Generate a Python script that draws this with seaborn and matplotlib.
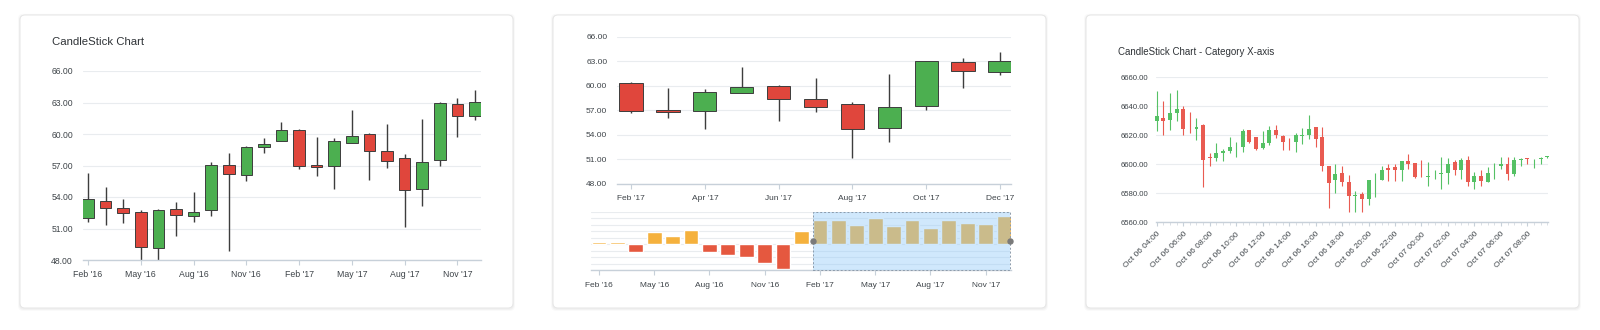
import numpy as np
import pandas as pd
import matplotlib
matplotlib.use("Agg")
import matplotlib.pyplot as plt
import seaborn as sns
from matplotlib.patches import FancyBboxPatch, Rectangle

# ---------------- data ----------------
months = ["Feb '16", "Mar '16", "Apr '16", "May '16", "Jun '16", "Jul '16",
          "Aug '16", "Sep '16", "Oct '16", "Nov '16", "Dec '16", "Jan '17",
          "Feb '17", "Mar '17", "Apr '17", "May '17", "Jun '17", "Jul '17",
          "Aug '17", "Sep '17", "Oct '17", "Nov '17", "Dec '17"]
m_open = [51.98, 53.66, 52.96, 52.54, 49.10, 52.83, 52.20, 52.76, 57.04, 56.09, 58.78, 59.37,
          60.40, 57.02, 56.97, 59.11, 59.97, 58.34, 57.76, 54.80, 57.56, 62.89, 61.71]
m_high = [56.29, 54.99, 53.78, 52.79, 52.86, 53.48, 54.48, 57.35, 58.15, 58.85, 59.65, 61.11,
          60.52, 59.71, 59.62, 62.29, 60.11, 60.93, 58.08, 61.42, 63.09, 63.42, 64.15]
m_low = [51.59, 51.35, 51.54, 47.88, 47.70, 50.32, 51.64, 52.15, 48.88, 55.48, 58.23, 59.35,
         56.71, 56.04, 54.77, 59.10, 55.66, 56.75, 51.18, 53.18, 57.00, 59.72, 61.29]
m_close = [53.85, 52.95, 52.48, 49.24, 52.78, 52.29, 52.58, 57.03, 56.19, 58.79, 59.05, 60.34,
           56.93, 56.82, 59.30, 59.85, 58.42, 57.42, 54.71, 57.35, 62.99, 61.76, 63.04]
brush_values = [3.85, 2.95, -12.48, 19.24, 12.78, 22.29, -12.58, -17.03, -19.19, -28.79, -39.05,
                20.34, 36.93, 36.82, 29.30, 39.85, 28.42, 37.42, 24.71, 37.35, 32.99, 31.76, 43.04]
quarter_labels = ["Feb '16", "May '16", "Aug '16", "Nov '16", "Feb '17", "May '17", "Aug '17", "Nov '17"]
zoom_labels = ["Feb '17", "Apr '17", "Jun '17", "Aug '17", "Oct '17", "Dec '17"]
price_ticks = [48, 51, 54, 57, 60, 63, 66]

i_open = [6629.81, 6632.01, 6630.71, 6635.65, 6638.24, 6624.53, 6624.61, 6627, 6605, 6604.5,
          6608.02, 6608.91, 6612, 6612, 6623.91, 6618.69, 6611, 6614.9, 6623.48, 6619.43,
          6615.53, 6615.19, 6619.54, 6620.33, 6625.95, 6619, 6598.86, 6588.86, 6593.99, 6587.81,
          6578.35, 6579.38, 6575.96, 6588.92, 6589.3, 6597.5, 6598.03, 6595.97, 6602, 6600.63,
          6591.02, 6591, 6593.13, 6593.34, 6593.86, 6601.81, 6596.25, 6602.99, 6587.81, 6591.97,
          6587.6, 6596.44, 6598.91, 6600.55, 6593.15, 6603.07, 6604.44, 6603.5, 6603.85, 6604.98]
i_high = [6650.5, 6643.59, 6648.95, 6651, 6640, 6636.03, 6632.2, 6627.62, 6608.03, 6614.4,
          6610.68, 6618.99, 6615.13, 6624.12, 6623.91, 6618.74, 6622.78, 6626.2, 6627, 6620.35,
          6617.93, 6621.6, 6625.17, 6634.15, 6626, 6625.97, 6598.88, 6600, 6598.89, 6592.73,
          6581.72, 6580.92, 6589, 6594, 6598.89, 6600, 6600, 6602.01, 6607, 6601.21,
          6603.08, 6601.32, 6596.01, 6604.76, 6604.28, 6603.21, 6604.2, 6606, 6595, 6596.07,
          6598.21, 6601, 6605, 6605, 6605, 6604.5, 6604.44, 6603.99, 6605, 6606]
i_low = [6623.04, 6620, 6623.34, 6629.67, 6620, 6621.68, 6617, 6584.22, 6598.95, 6602.26,
         6601.99, 6608.01, 6605.09, 6608.43, 6615, 6610, 6610.4, 6613.33, 6618.38, 6610.05,
         6610, 6608.2, 6614.15, 6617.24, 6611.66, 6595.27, 6570, 6580, 6585, 6567.14,
         6567.39, 6566.77, 6571.77, 6577.55, 6589.1, 6588.39, 6588.73, 6588.17, 6596.51, 6590.39,
         6591, 6585, 6590, 6582.63, 6586.57, 6592.78, 6590, 6584.99, 6583.27, 6585,
         6587.6, 6590, 6596.61, 6589.14, 6592, 6599.09, 6600, 6597.5, 6600, 6604.07]
i_close = [6633.33, 6630.11, 6635.65, 6638.24, 6624.47, 6624.31, 6626.02, 6603.02, 6604.01, 6608.02,
           6608.91, 6612, 6612, 6622.95, 6615.67, 6610.4, 6614.9, 6623.45, 6620.35, 6615.53,
           6615.19, 6620, 6620, 6624.61, 6617.58, 6598.86, 6587.16, 6593.4, 6587.81, 6578,
           6579, 6575.96, 6588.92, 6589.22, 6596.08, 6596.25, 6595.97, 6602, 6599.95, 6591.02,
           6591, 6592, 6593.34, 6593.86, 6600.01, 6596.25, 6602.99, 6587.81, 6591.96, 6588.39,
           6594.27, 6596.55, 6600.02, 6593.01, 6603.06, 6603.89, 6603.5, 6603.86, 6604.07, 6606]
intraday_labels = ["Oct 06 04:00", "Oct 06 06:00", "Oct 06 08:00", "Oct 06 10:00", "Oct 06 12:00",
                   "Oct 06 14:00", "Oct 06 16:00", "Oct 06 18:00", "Oct 06 20:00", "Oct 06 22:00",
                   "Oct 07 00:00", "Oct 07 02:00", "Oct 07 04:00", "Oct 07 06:00", "Oct 07 08:00"]
intraday_ticks = [6560, 6580, 6600, 6620, 6640, 6660]

# ---------------- style ----------------
sns.set_theme(style="white")
plt.rcParams["font.family"] = ["Liberation Sans", "DejaVu Sans"]

W, H = 1600, 330
fig = plt.figure(figsize=(W / 100, H / 100), dpi=100)
fig.patch.set_facecolor("white")

TXT = "#3e4449"
GRID = "#e9ecef"
AXIS = "#c7d0d9"
UP, DOWN = "#4caf50", "#e0463c"
UP3, DOWN3 = "#55c165", "#e95b51"


def rect(x0, y0, x1, y1):
    return [x0 / W, 1 - y1 / H, (x1 - x0) / W, (y1 - y0) / H]


# cards (drawn beneath the axes)
for cx in (20, 553, 1086):
    for k, a in ((2.0, 0.025), (1.0, 0.035)):
        sh = FancyBboxPatch(((cx - k) / 100, (H - 308 - k - 0.8) / 100), (493 + 2 * k) / 100,
                            (293 + 2 * k) / 100, boxstyle="round,pad=0,rounding_size=0.05",
                            transform=fig.dpi_scale_trans, facecolor="#000000", alpha=a,
                            edgecolor="none", zorder=-3)
        fig.add_artist(sh)
    card = FancyBboxPatch((cx / 100, (H - 308) / 100), 493 / 100, 293 / 100,
                          boxstyle="round,pad=0,rounding_size=0.05",
                          transform=fig.dpi_scale_trans, facecolor="white",
                          edgecolor="#e6e6e6", linewidth=0.7, zorder=-2)
    fig.add_artist(card)


def style_axes(ax, ylab_size, pad):
    ax.set_facecolor("none")
    for s in ("top", "right", "left"):
        ax.spines[s].set_visible(False)
    ax.spines["bottom"].set_color(AXIS)
    ax.spines["bottom"].set_linewidth(1.0)
    ax.grid(axis="y", color=GRID, linewidth=0.8)
    ax.grid(axis="x", visible=False)
    ax.set_axisbelow(True)
    ax.tick_params(axis="y", length=0, labelsize=ylab_size, labelcolor=TXT, pad=pad)
    ax.tick_params(axis="x", length=3.5, width=0.8, color=AXIS, labelsize=6.3,
                   labelcolor=TXT, pad=4, bottom=True)
    ax.set_xlabel("")
    ax.set_ylabel("")


def candles(ax, x, o, h, l, c, width, up, down, edge, wick_lw, edge_lw, clip=True):
    o, h, l, c = map(np.asarray, (o, h, l, c))
    x = np.asarray(x)
    rising = c >= o
    cols = np.where(rising, up, down)
    wcols = [edge if edge else col for col in cols]
    wk = ax.vlines(x, l, h, colors=wcols, linewidth=wick_lw, zorder=2)
    wk.set_clip_on(clip)
    body = np.where(np.abs(c - o) < 1e-9, 0.001, c - o)
    bars = ax.bar(x, body, bottom=o, width=width, color=cols,
                  edgecolor=edge if edge else cols, linewidth=edge_lw, zorder=3)
    for b in bars:
        b.set_clip_on(clip)


idx = np.arange(len(months))

# ---------------- panel 1 ----------------
ax1 = fig.add_axes(rect(82.7, 71, 481, 260))
candles(ax1, idx, m_open, m_high, m_low, m_close, 0.66, UP, DOWN, "#3d3d3d", 1.0, 0.7)
ax1.set_ylim(48, 66)
ax1.set_xlim(-0.3, 22.34)
ax1.set_yticks(price_ticks)
ax1.set_yticklabels([f"{v:.2f}" for v in price_ticks])
ax1.set_xticks(idx[::3])
ax1.set_xticklabels(quarter_labels)
style_axes(ax1, 6.2, 7)
fig.text(52 / W, 1 - 41.7 / H, "CandleStick Chart", fontsize=8.2, color="#2f3337", va="center")

# ---------------- panel 2 main ----------------
ax2 = fig.add_axes(rect(616.7, 36.7, 1010.7, 184))
candles(ax2, idx, m_open, m_high, m_low, m_close, 0.63, UP, DOWN, "#3d3d3d", 1.0, 0.7)
ax2.set_ylim(48, 66)
ax2.set_xlim(12 - 0.39, 22 + 0.29)
ax2.set_yticks(price_ticks)
ax2.set_yticklabels([f"{v:.2f}" for v in price_ticks])
ax2.set_xticks(idx[12::2])
ax2.set_xticklabels(zoom_labels)
style_axes(ax2, 6.0, 6.8)
ax2.tick_params(axis="x", labelsize=6.0, pad=4.5)

# ---------------- panel 2 brush ----------------
ax3 = fig.add_axes(rect(591, 211.7, 1010.7, 270))
bdf = pd.DataFrame({"m": idx, "v": brush_values,
                    "dir": ["up" if v > 0 else "down" for v in brush_values]})
sns.barplot(data=bdf, x="m", y="v", hue="dir", palette={"up": "#f5b13d", "down": "#e5583f"},
            native_scale=True, dodge=False, width=0.8, legend=False, errorbar=None,
            saturation=1, ax=ax3, zorder=2)
ax3.set_ylim(-40, 50)
ax3.set_xlim(-0.43, 22.36)
ax3.set_yticks(np.arange(-40, 51, 10))
ax3.set_yticklabels([])
ax3.set_xticks(idx[::3])
ax3.set_xticklabels(quarter_labels)
style_axes(ax3, 5, 0)
ax3.tick_params(axis="x", labelsize=6.0, pad=5)
sel0, sel1 = 12 - 0.39, 22 + 0.3
ax3.add_patch(Rectangle((sel0, -40), sel1 - sel0, 90, facecolor="#90caf9", alpha=0.42,
                        edgecolor="none", zorder=4))
ax3.add_patch(Rectangle((sel0, -40), sel1 - sel0, 90, facecolor="none", edgecolor="#8c9bab",
                        linestyle=(0, (2, 2)), linewidth=0.7, zorder=5, clip_on=False))
ax3.plot([sel0, sel1], [5, 5], linestyle="none", marker="o", markersize=3.6,
         color="#7a7a7a", zorder=6, clip_on=False)

# ---------------- panel 3 ----------------
ax4 = fig.add_axes(rect(1156, 77.3, 1548, 222.3))
ix = np.arange(len(i_open))
candles(ax4, ix, i_open, i_high, i_low, i_close, 0.6, UP3, DOWN3, None, 0.8, 0.0, clip=False)
ax4.set_ylim(6560, 6660)
ax4.set_xlim(-0.12, 59.12)
ax4.set_yticks(intraday_ticks)
ax4.set_yticklabels([f"{v:.2f}" for v in intraday_ticks])
ax4.set_xticks(ix[::4])
ax4.set_xticklabels(intraday_labels, rotation=45, ha="right", va="top", rotation_mode="anchor")
ax4.set_xticks(ix, minor=True)
style_axes(ax4, 5.6, 5.8)
ax4.tick_params(axis="x", labelsize=6.0, length=3, pad=3)
ax4.tick_params(axis="x", which="minor", length=2.5, width=0.6, color="#d5dbe1", bottom=True)
fig.text(1118 / W, 1 - 51.7 / H, "CandleStick Chart - Category X-axis", fontsize=7.0,
         color="#2f3337", va="center")

fig.savefig("out.png", dpi=100, facecolor="white")
